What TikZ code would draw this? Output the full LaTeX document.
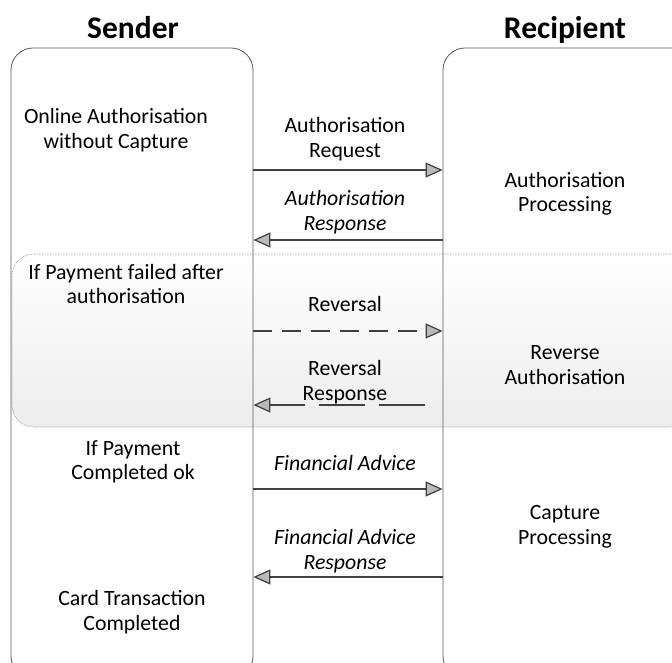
\documentclass[tikz,border=0pt]{standalone}
\usepackage{fontspec}
\setmainfont{Carlito}
\usetikzlibrary{arrows.meta,shapes}

\begin{document}
\begin{tikzpicture}[x=1pt,y=-1pt,
      lane/.style={draw=black!65, line width=0.8pt, rounded corners=22pt, inner sep=0pt},
      band/.style={draw=black!50, densely dotted, line width=0.6pt, rounded corners=22pt, top color=white, bottom color=gray!14, inner sep=0pt},
      msg/.style={draw=black!75, line width=2.5pt, -{Triangle[length=17pt,width=15pt,fill=gray!55,line width=1.2pt]}},
      lbl/.style={align=center, font=\fontsize{21.8}{24.5}\selectfont},
      ilbl/.style={lbl, font=\fontsize{21.8}{24.5}\selectfont\itshape},
      ttl/.style={anchor=base, font=\fontsize{31.5}{36}\selectfont\bfseries}]
      \clip (0,0) rectangle (672,663);
      \fill[white] (0,0) rectangle (672,663);

      % failure band behind the lanes
      \node[band, minimum width=680pt, minimum height=173pt] (failband) at (352,340.5) {};

      \node[lane, minimum width=242pt, minimum height=630pt] (sender) at (132,363) {};
      \node[lane, minimum width=250pt, minimum height=630pt] (recipient) at (568,363) {};

      \node[ttl] (sendtitle) at (133,39) {Sender};
      \node[ttl] (rcptitle) at (565,39) {Recipient};

      % sender side
      \node[lbl] (onlineauth) at (116,130) {Online Authorisation\\without Capture};
      \node[lbl] (payfailed) at (126,284) {If Payment failed after\\authorisation};
      \node[lbl] (payok) at (133,462) {If Payment\\Completed ok};
      \node[lbl] (carddone) at (132,612) {Card Transaction\\Completed};

      % recipient side
      \node[lbl] (authproc) at (565,194) {Authorisation\\Processing};
      \node[lbl] (revauth) at (565,365) {Reverse\\Authorisation};
      \node[lbl] (captproc) at (565,527) {Capture\\Processing};

      % messages
      \node[lbl] (authreq) at (345,139) {Authorisation\\Request};
      \draw[msg] (sender.east |- 0,170) -- (recipient.west |- 0,170);
      \node[ilbl] (authresp) at (345,212) {Authorisation\\Response};
      \draw[msg] (recipient.west |- 0,240) -- (sender.east |- 0,240);

      \node[lbl] (reversal) at (345,304) {Reversal};
      \draw[msg, dash pattern=on 19pt off 10pt] (sender.east |- 0,331) -- (recipient.west |- 0,331);
      \node[lbl] (revresp) at (345,382) {Reversal\\Response};
      \coordinate (revstart) at (425,405);
      \draw[msg, dash pattern=on 46pt off 14pt] (revstart) -- (sender.east |- revstart);

      \node[ilbl] (finadv) at (345,463) {Financial Advice};
      \draw[msg] (sender.east |- 0,489) -- (recipient.west |- 0,489);
      \node[ilbl] (finresp) at (345,551) {Financial Advice\\Response};
      \draw[msg] (recipient.west |- 0,577) -- (sender.east |- 0,577);
\end{tikzpicture}
\end{document}
